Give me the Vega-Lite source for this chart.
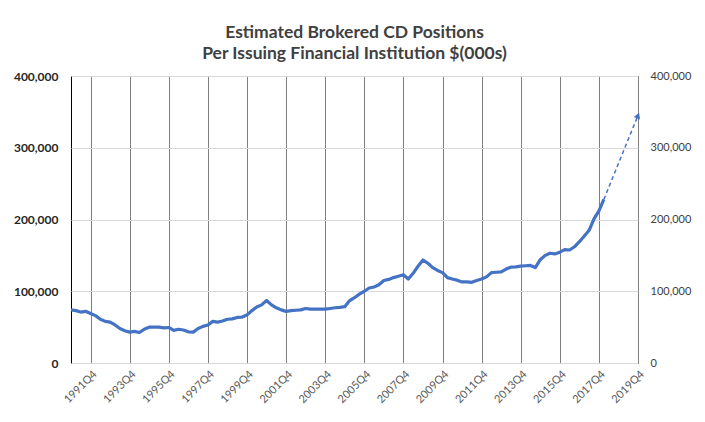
{
  "$schema": "https://vega.github.io/schema/vega-lite/v6.json",
  "autosize": {"type": "none"},
  "width": 567,
  "height": 287,
  "padding": {"left": 71, "top": 76, "right": 67, "bottom": 59},
  "background": "white",
  "title": {
    "text": ["Estimated Brokered CD Positions", "Per Issuing Financial Institution $(000s)"],
    "font": "Lato",
    "fontSize": 17.5,
    "fontWeight": "bold",
    "color": "#404040",
    "lineHeight": 21,
    "anchor": "middle",
    "offset": 8
  },
  "config": {
    "view": {"stroke": "black", "strokeWidth": 1},
    "axis": {"labelFont": "Lato", "titleFont": "Lato"}
  },
  "data": {
    "values": [
      {"date": "1990-10-01", "value": 74000, "series": "Actual"},
      {"date": "1991-01-01", "value": 73000, "series": "Actual"},
      {"date": "1991-04-01", "value": 71000, "series": "Actual"},
      {"date": "1991-07-01", "value": 72000, "series": "Actual"},
      {"date": "1991-10-01", "value": 69000, "series": "Actual"},
      {"date": "1992-01-01", "value": 66000, "series": "Actual"},
      {"date": "1992-04-01", "value": 61000, "series": "Actual"},
      {"date": "1992-07-01", "value": 58000, "series": "Actual"},
      {"date": "1992-10-01", "value": 57000, "series": "Actual"},
      {"date": "1993-01-01", "value": 53000, "series": "Actual"},
      {"date": "1993-04-01", "value": 48000, "series": "Actual"},
      {"date": "1993-07-01", "value": 45000, "series": "Actual"},
      {"date": "1993-10-01", "value": 43000, "series": "Actual"},
      {"date": "1994-01-01", "value": 44000, "series": "Actual"},
      {"date": "1994-04-01", "value": 42500, "series": "Actual"},
      {"date": "1994-07-01", "value": 47000, "series": "Actual"},
      {"date": "1994-10-01", "value": 50000, "series": "Actual"},
      {"date": "1995-01-01", "value": 50000, "series": "Actual"},
      {"date": "1995-04-01", "value": 50000, "series": "Actual"},
      {"date": "1995-07-01", "value": 49000, "series": "Actual"},
      {"date": "1995-10-01", "value": 49500, "series": "Actual"},
      {"date": "1996-01-01", "value": 45500, "series": "Actual"},
      {"date": "1996-04-01", "value": 47000, "series": "Actual"},
      {"date": "1996-07-01", "value": 46000, "series": "Actual"},
      {"date": "1996-10-01", "value": 43500, "series": "Actual"},
      {"date": "1997-01-01", "value": 43000, "series": "Actual"},
      {"date": "1997-04-01", "value": 48000, "series": "Actual"},
      {"date": "1997-07-01", "value": 51000, "series": "Actual"},
      {"date": "1997-10-01", "value": 53000, "series": "Actual"},
      {"date": "1998-01-01", "value": 58000, "series": "Actual"},
      {"date": "1998-04-01", "value": 57000, "series": "Actual"},
      {"date": "1998-07-01", "value": 58500, "series": "Actual"},
      {"date": "1998-10-01", "value": 61000, "series": "Actual"},
      {"date": "1999-01-01", "value": 61500, "series": "Actual"},
      {"date": "1999-04-01", "value": 63500, "series": "Actual"},
      {"date": "1999-07-01", "value": 64000, "series": "Actual"},
      {"date": "1999-10-01", "value": 67000, "series": "Actual"},
      {"date": "2000-01-01", "value": 73000, "series": "Actual"},
      {"date": "2000-04-01", "value": 78000, "series": "Actual"},
      {"date": "2000-07-01", "value": 81000, "series": "Actual"},
      {"date": "2000-10-01", "value": 87000, "series": "Actual"},
      {"date": "2001-01-01", "value": 81000, "series": "Actual"},
      {"date": "2001-04-01", "value": 77000, "series": "Actual"},
      {"date": "2001-07-01", "value": 74000, "series": "Actual"},
      {"date": "2001-10-01", "value": 72000, "series": "Actual"},
      {"date": "2002-01-01", "value": 73000, "series": "Actual"},
      {"date": "2002-04-01", "value": 73500, "series": "Actual"},
      {"date": "2002-07-01", "value": 74000, "series": "Actual"},
      {"date": "2002-10-01", "value": 76000, "series": "Actual"},
      {"date": "2003-01-01", "value": 75000, "series": "Actual"},
      {"date": "2003-04-01", "value": 75000, "series": "Actual"},
      {"date": "2003-07-01", "value": 75000, "series": "Actual"},
      {"date": "2003-10-01", "value": 75000, "series": "Actual"},
      {"date": "2004-01-01", "value": 76000, "series": "Actual"},
      {"date": "2004-04-01", "value": 77000, "series": "Actual"},
      {"date": "2004-07-01", "value": 77500, "series": "Actual"},
      {"date": "2004-10-01", "value": 78500, "series": "Actual"},
      {"date": "2005-01-01", "value": 87000, "series": "Actual"},
      {"date": "2005-04-01", "value": 91000, "series": "Actual"},
      {"date": "2005-07-01", "value": 96000, "series": "Actual"},
      {"date": "2005-10-01", "value": 100000, "series": "Actual"},
      {"date": "2006-01-01", "value": 104500, "series": "Actual"},
      {"date": "2006-04-01", "value": 106000, "series": "Actual"},
      {"date": "2006-07-01", "value": 109000, "series": "Actual"},
      {"date": "2006-10-01", "value": 115000, "series": "Actual"},
      {"date": "2007-01-01", "value": 116500, "series": "Actual"},
      {"date": "2007-04-01", "value": 119000, "series": "Actual"},
      {"date": "2007-07-01", "value": 121000, "series": "Actual"},
      {"date": "2007-10-01", "value": 123000, "series": "Actual"},
      {"date": "2008-01-01", "value": 117000, "series": "Actual"},
      {"date": "2008-04-01", "value": 125000, "series": "Actual"},
      {"date": "2008-07-01", "value": 135000, "series": "Actual"},
      {"date": "2008-10-01", "value": 143500, "series": "Actual"},
      {"date": "2009-01-01", "value": 139000, "series": "Actual"},
      {"date": "2009-04-01", "value": 133000, "series": "Actual"},
      {"date": "2009-07-01", "value": 129000, "series": "Actual"},
      {"date": "2009-10-01", "value": 126000, "series": "Actual"},
      {"date": "2010-01-01", "value": 119000, "series": "Actual"},
      {"date": "2010-04-01", "value": 117000, "series": "Actual"},
      {"date": "2010-07-01", "value": 115500, "series": "Actual"},
      {"date": "2010-10-01", "value": 113000, "series": "Actual"},
      {"date": "2011-01-01", "value": 113000, "series": "Actual"},
      {"date": "2011-04-01", "value": 112500, "series": "Actual"},
      {"date": "2011-07-01", "value": 115000, "series": "Actual"},
      {"date": "2011-10-01", "value": 117000, "series": "Actual"},
      {"date": "2012-01-01", "value": 120000, "series": "Actual"},
      {"date": "2012-04-01", "value": 126000, "series": "Actual"},
      {"date": "2012-07-01", "value": 126500, "series": "Actual"},
      {"date": "2012-10-01", "value": 127000, "series": "Actual"},
      {"date": "2013-01-01", "value": 131000, "series": "Actual"},
      {"date": "2013-04-01", "value": 133500, "series": "Actual"},
      {"date": "2013-07-01", "value": 134000, "series": "Actual"},
      {"date": "2013-10-01", "value": 135000, "series": "Actual"},
      {"date": "2014-01-01", "value": 135500, "series": "Actual"},
      {"date": "2014-04-01", "value": 136000, "series": "Actual"},
      {"date": "2014-07-01", "value": 133000, "series": "Actual"},
      {"date": "2014-10-01", "value": 144000, "series": "Actual"},
      {"date": "2015-01-01", "value": 150000, "series": "Actual"},
      {"date": "2015-04-01", "value": 153000, "series": "Actual"},
      {"date": "2015-07-01", "value": 152000, "series": "Actual"},
      {"date": "2015-10-01", "value": 154500, "series": "Actual"},
      {"date": "2016-01-01", "value": 158000, "series": "Actual"},
      {"date": "2016-04-01", "value": 157500, "series": "Actual"},
      {"date": "2016-07-01", "value": 162000, "series": "Actual"},
      {"date": "2016-10-01", "value": 169000, "series": "Actual"},
      {"date": "2017-01-01", "value": 177000, "series": "Actual"},
      {"date": "2017-04-01", "value": 185000, "series": "Actual"},
      {"date": "2017-07-01", "value": 201000, "series": "Actual"},
      {"date": "2017-10-01", "value": 212000, "series": "Actual"},
      {"date": "2018-01-01", "value": 228000, "series": "Actual"},
      {"date": "2018-01-01", "value": 228000, "series": "Projection"},
      {"date": "2019-10-01", "value": 345000, "series": "Projection"}
    ]
  },
  "encoding": {
    "x": {
      "field": "date",
      "type": "temporal",
      "scale": {
        "type": "utc",
        "domain": [
          {"year": 1990, "month": 10, "date": 1, "utc": true},
          {"year": 2019, "month": 10, "date": 1, "utc": true}
        ]
      },
      "axis": {
        "title": null,
        "values": [
          {"year": 1991, "month": 10, "date": 1, "utc": true},
          {"year": 1993, "month": 10, "date": 1, "utc": true},
          {"year": 1995, "month": 10, "date": 1, "utc": true},
          {"year": 1997, "month": 10, "date": 1, "utc": true},
          {"year": 1999, "month": 10, "date": 1, "utc": true},
          {"year": 2001, "month": 10, "date": 1, "utc": true},
          {"year": 2003, "month": 10, "date": 1, "utc": true},
          {"year": 2005, "month": 10, "date": 1, "utc": true},
          {"year": 2007, "month": 10, "date": 1, "utc": true},
          {"year": 2009, "month": 10, "date": 1, "utc": true},
          {"year": 2011, "month": 10, "date": 1, "utc": true},
          {"year": 2013, "month": 10, "date": 1, "utc": true},
          {"year": 2015, "month": 10, "date": 1, "utc": true},
          {"year": 2017, "month": 10, "date": 1, "utc": true},
          {"year": 2019, "month": 10, "date": 1, "utc": true}
        ],
        "labelExpr": "utcyear(datum.value) + 'Q' + (floor(utcmonth(datum.value) / 3) + 1)",
        "labelAngle": -45,
        "labelFontSize": 11,
        "labelColor": "#595959",
        "labelPadding": 5,
        "labelOverlap": false,
        "labelFlush": false,
        "ticks": false,
        "domain": false,
        "grid": true,
        "gridColor": "#7f7f7f",
        "gridWidth": 1
      }
    }
  },
  "layer": [
    {
      "transform": [{"filter": "datum.series === 'Actual'"}],
      "mark": {"type": "line", "color": "#4472C4", "strokeWidth": 3.2, "strokeJoin": "round"},
      "encoding": {
        "y": {
          "field": "value",
          "type": "quantitative",
          "scale": {"domain": [0, 400000], "nice": false},
          "axis": {
            "title": null,
            "orient": "left",
            "values": [0, 100000, 200000, 300000, 400000],
            "format": ",.0f",
            "labelFontSize": 12,
            "labelFontWeight": "bold",
            "labelColor": "#262626",
            "labelPadding": 13,
            "ticks": false,
            "domain": false,
            "grid": true,
            "gridColor": "#d9d9d9",
            "gridWidth": 1
          }
        }
      }
    },
    {
      "transform": [{"filter": "datum.series === 'Projection'"}],
      "mark": {"type": "line", "color": "#4472C4", "strokeWidth": 1.5, "strokeDash": [4, 3]},
      "encoding": {
        "y": {
          "field": "value",
          "type": "quantitative",
          "scale": {"domain": [0, 400000], "nice": false},
          "axis": {
            "title": null,
            "orient": "right",
            "values": [0, 100000, 200000, 300000, 400000],
            "format": ",.0f",
            "labelFontSize": 11,
            "labelColor": "#404040",
            "labelPadding": 12,
            "ticks": false,
            "domain": false,
            "grid": false
          }
        }
      }
    },
    {
      "transform": [{"filter": "datum.series === 'Projection' && datum.value > 300000"}],
      "mark": {"type": "point", "shape": "triangle-up", "filled": true, "color": "#4472C4", "size": 45, "angle": 22, "opacity": 1},
      "encoding": {
        "y": {
          "field": "value",
          "type": "quantitative",
          "scale": {"domain": [0, 400000], "nice": false},
          "axis": null
        }
      }
    }
  ],
  "resolve": {"scale": {"y": "independent"}, "axis": {"y": "independent"}}
}
